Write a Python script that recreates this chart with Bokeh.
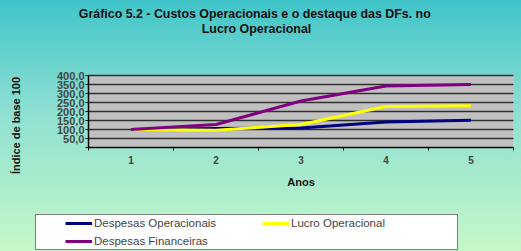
from math import pi
from bokeh.plotting import figure
from bokeh.models import FixedTicker, Legend, LegendItem, Label, Range1d, BoxAnnotation
from bokeh.embed import file_html
from bokeh.resources import INLINE

# ---- data ----
anos = [1, 2, 3, 4, 5]
ano_labels = ["1", "2", "3", "4", "5"]
despesas_operacionais = [100, 106, 108, 142, 152]
lucro_operacional = [100, 96, 128, 228, 232]
despesas_financeiras = [100, 128, 258, 342, 350]
y_ticks = [0, 50, 100, 150, 200, 250, 300, 350, 400]
y_tick_labels = ["", "50,0", "100,0", "150,0", "200,0", "250,0", "300,0", "350,0", "400,0"]
title_lines = ["Gráfico 5.2 - Custos  Operacionais e o destaque das DFs. no", "Lucro Operacional"]
y_title = "Índice de base 100"
x_title = "Anos"
series_names = ["Despesas Operacionais", "Lucro Operacional", "Despesas Financeiras"]
series_colors = ["#000080", "#ffff00", "#800080"]

FONT = "Liberation Sans"

# ---- layout (pixels) ----
W, H = 521, 251
PL, PR, PT, PB = 88, 513, 75, 147   # plot-area edges in pixels
x_lo, x_hi = anos[0] - 0.5, anos[-1] + 0.5
y_lo, y_hi = y_ticks[0], y_ticks[-1]
xs = (x_hi - x_lo) / (PR - PL)
ys = (y_hi - y_lo) / (PB - PT)
x_range = Range1d(x_lo - PL * xs, x_hi + (W - PR) * xs)
y_range = Range1d(y_lo - (H - PB) * ys, y_hi + PT * ys)

p = figure(width=W, height=H, output_backend="svg", toolbar_location=None,
           x_range=x_range, y_range=y_range, min_border=0,
           min_border_left=0, min_border_right=0, min_border_top=0, min_border_bottom=0)
p.title = None
p.styles = {"background": "linear-gradient(to bottom, #40c4c9 0%, #8fe0d2 45%, #c4f8c8 100%)"}
p.border_fill_color = None
p.background_fill_color = None
p.outline_line_color = None
p.xgrid.visible = False
p.ygrid.visible = False

# plot area
p.add_layout(BoxAnnotation(left=x_lo, right=x_hi, bottom=y_lo, top=y_hi,
                           fill_color="#c0c0c0", fill_alpha=1,
                           line_color="#e4e4e4", line_width=1, level="underlay"))
# horizontal grid lines
p.segment(x0=[x_lo] * (len(y_ticks) - 1), x1=[x_hi] * (len(y_ticks) - 1),
          y0=y_ticks[1:], y1=y_ticks[1:], line_color="#303030", line_width=1.5)

# x axis: labels at categories, ticks between them
p.xaxis.fixed_location = y_lo
p.xaxis.bounds = (x_lo, x_hi)
p.xaxis.ticker = FixedTicker(ticks=anos, minor_ticks=[a - 0.5 for a in anos] + [anos[-1] + 0.5])
p.xaxis.major_label_overrides = {a: l for a, l in zip(anos, ano_labels)}
p.xaxis.major_tick_line_color = None
p.xaxis.major_tick_out = 0
p.xaxis.major_tick_in = 0
p.xaxis.minor_tick_line_color = "black"
p.xaxis.minor_tick_out = 3
p.xaxis.minor_tick_in = 0
p.xaxis.major_label_standoff = 5
p.xaxis.major_label_text_font = FONT
p.xaxis.major_label_text_font_style = "bold"
p.xaxis.major_label_text_font_size = "10px"
p.xaxis.axis_label = x_title
p.xaxis.axis_label_text_font = FONT
p.xaxis.axis_label_text_font_style = "bold"
p.xaxis.axis_label_text_font_size = "11px"
p.xaxis.axis_label_text_color = "#101010"
p.xaxis.axis_label_standoff = 9
p.xaxis.axis_line_color = "black"
p.xaxis.axis_line_width = 1.5

# y axis
p.yaxis.fixed_location = x_lo
p.yaxis.bounds = (y_lo, y_hi)
p.yaxis.ticker = FixedTicker(ticks=y_ticks)
p.yaxis.major_label_overrides = {t: l for t, l in zip(y_ticks, y_tick_labels)}
p.yaxis.major_tick_out = 3
p.yaxis.major_tick_in = 0
p.yaxis.minor_tick_line_color = None
p.yaxis.major_label_standoff = 1
p.yaxis.major_label_text_font = FONT
p.yaxis.major_label_text_font_style = "bold"
p.yaxis.major_label_text_font_size = "11px"
p.yaxis.axis_line_color = "black"
p.yaxis.axis_line_width = 1.5

renderers = []
for vals, c in zip([despesas_operacionais, lucro_operacional, despesas_financeiras], series_colors):
    r = p.line(anos, vals, line_color=c, line_width=3)
    renderers.append(r)

legend = Legend(items=[LegendItem(label=n, renderers=[r]) for n, r in zip(series_names, renderers)],
                orientation="horizontal", ncols=2, location=(35, 1),
                padding=0, spacing=2, margin=0,
                glyph_width=27, glyph_height=16, label_height=16, label_width=166,
                label_standoff=2,
                label_text_font=FONT, label_text_font_size="11.5px",
                border_line_color="black", border_line_width=1,
                background_fill_color="white", background_fill_alpha=1,
                title=" ", title_location="left", title_standoff=18,
                title_text_font_size="10px")
p.add_layout(legend, "center")

# titles as screen-placed labels (relative to canvas bottom-left)
p.add_layout(Label(x=256, y=H - 13, x_units="screen", y_units="screen", text=title_lines[0],
                   text_align="center", text_baseline="middle", text_font=FONT,
                   text_font_style="bold", text_font_size="12.4px", text_color="#101010"))
p.add_layout(Label(x=256, y=H - 28, x_units="screen", y_units="screen", text=title_lines[1],
                   text_align="center", text_baseline="middle", text_font=FONT,
                   text_font_style="bold", text_font_size="12.4px", text_color="#101010"))
p.add_layout(Label(x=15, y=H - 125, x_units="screen", y_units="screen", text=y_title, angle=pi / 2,
                   text_align="center", text_baseline="middle", text_font=FONT,
                   text_font_style="bold", text_font_size="11px", text_color="#101010"))

open("out.html", "w").write(file_html(p, INLINE))
